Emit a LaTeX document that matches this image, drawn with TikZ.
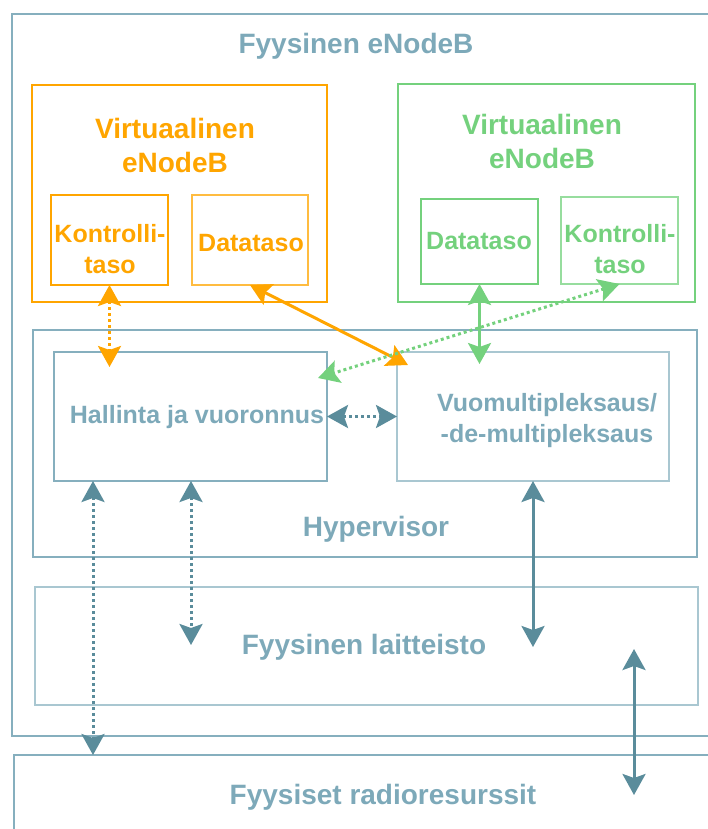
\documentclass[tikz,border=0pt]{standalone}
\usepackage{fontspec}
\setmainfont{Liberation Sans}
\usetikzlibrary{arrows.meta}

\definecolor{hvline}{HTML}{86AFBE}
\definecolor{hvlight}{HTML}{A9C7D1}
\definecolor{hvtext}{HTML}{7DA9B9}
\definecolor{hvarrow}{HTML}{5A8C9B}
\definecolor{vorange}{HTML}{FFA500}
\definecolor{vgreen}{HTML}{74D17D}

\begin{document}
\begin{tikzpicture}[x=1pt,y=-1pt,
    every node/.style={inner sep=0pt,outer sep=0pt},
    hvbox/.style={draw=hvline,line width=2pt},
    lightbox/.style={draw=hvlight,line width=2.5pt},
    orbox/.style={draw=vorange,line width=2pt},
    grbox/.style={draw=vgreen,line width=2pt},
    bigtext/.style={font=\bfseries\fontsize{28}{34}\selectfont,align=center},
    smalltext/.style={font=\bfseries\fontsize{25}{31}\selectfont,align=center},
    link/.style={line width=3pt,{Stealth[length=21pt,width=23pt,inset=4pt]}-{Stealth[length=21pt,width=23pt,inset=4pt]}},
    dotlink/.style={link,dash pattern=on 3pt off 3pt}]
  \useasboundingbox (0,0) rectangle (708,829);
  \clip (0,0) rectangle (708,829);

  % physical eNodeB and the radio resources below it
  \node[hvbox,minimum width=748,minimum height=722] (enb) at (386,375) {};
  \node[hvbox,minimum width=786,minimum height=145] (radio) at (407,827.5) {};
  \node[bigtext,text=hvtext] (enbtext) at (356,46) {Fyysinen eNodeB};
  \node[bigtext,text=hvtext] (radiotext) at (383,797) {Fyysiset radioresurssit};

  % virtual eNodeBs
  \node[orbox,minimum width=295,minimum height=217] (oenb) at (179.5,193.5) {};
  \node[bigtext,text=vorange] (oenbtext) at (175,145) {Virtuaalinen\\eNodeB};
  \node[orbox,minimum width=117,minimum height=90] (okt) at (109.5,240) {};
  \node[smalltext,text=vorange] (okttext) at (110,249) {Kontrolli-\\taso};
  \node[orbox,draw opacity=0.75,minimum width=116,minimum height=90] (odt) at (250,240) {};
  \node[smalltext,text=vorange] (odttext) at (251,243) {Datataso};

  \node[grbox,minimum width=297,minimum height=218] (genb) at (546.5,193) {};
  \node[bigtext,text=vgreen] (genbtext) at (542,141) {Virtuaalinen\\eNodeB};
  \node[grbox,minimum width=117,minimum height=85] (gdt) at (479.5,241.5) {};
  \node[smalltext,text=vgreen] (gdttext) at (479,241) {Datataso};
  \node[grbox,draw opacity=0.75,minimum width=117,minimum height=87] (gkt) at (619.5,240.5) {};
  \node[smalltext,text=vgreen] (gkttext) at (620,249) {Kontrolli-\\taso};

  % hypervisor
  \node[hvbox,minimum width=664,minimum height=227] (hyp) at (365,443.5) {};
  \node[bigtext,text=hvtext] (hyptext) at (376,529) {Hypervisor};
  \node[hvbox,minimum width=273,minimum height=129] (hal) at (190.5,416.5) {};
  \node[smalltext,text=hvtext] (haltext) at (197,417) {Hallinta ja vuoronnus};
  \node[lightbox,minimum width=272,minimum height=129] (vuo) at (533,416.5) {};
  \node[smalltext,text=hvtext] (vuotext) at (547,421) {Vuomultipleksaus/\\-de-multipleksaus};

  % hardware
  \node[lightbox,minimum width=663,minimum height=118] (hw) at (366.5,646) {};
  \node[bigtext,text=hvtext] (hwtext) at (364,647) {Fyysinen laitteisto};

  % arrow ends
  \coordinate (a1) at (109.5,367);
  \coordinate (a2) at (408,365);
  \coordinate (a3) at (479.5,364);
  \coordinate (a4) at (318,378);
  \coordinate (a5) at (93,481);
  \coordinate (a6) at (191,481);
  \coordinate (a7) at (191,645);
  \coordinate (a8) at (533,647);
  \coordinate (a9) at (634,649);
  \coordinate (a10) at (634,795);

  \begin{scope}[vorange]
    \draw[dotlink] (okt.south) to (a1);
    \draw[link] (odt.south) to (a2);
  \end{scope}
  \begin{scope}[vgreen]
    \draw[link] (gdt.south) to (a3);
    \draw[dotlink] (gkt.south) to (a4);
  \end{scope}
  \begin{scope}[hvarrow]
    \draw[dotlink] (hal.east) to (vuo.west);
    \draw[dotlink] (a5) to (a5 |- radio.north);
    \draw[dotlink] (a6) to (a7);
    \draw[link] (vuo.south) to (a8);
    \draw[link] (a9) to (a10);
  \end{scope}
\end{tikzpicture}
\end{document}
